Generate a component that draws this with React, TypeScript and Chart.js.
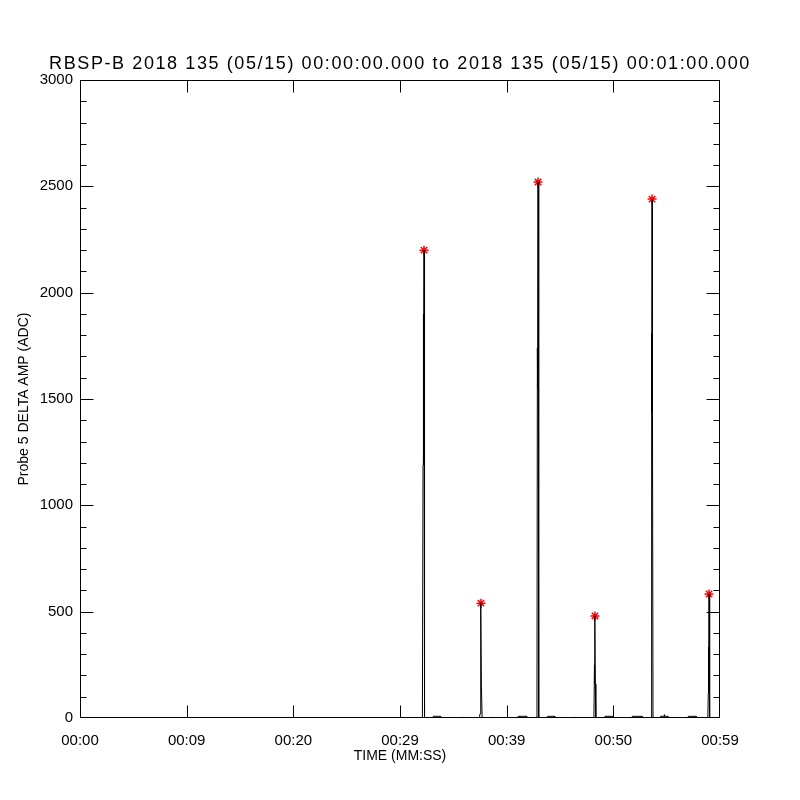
import React, { useEffect, useRef } from "react";
import { Chart, registerables } from "chart.js";

Chart.register(...registerables);

const titleText = "RBSP-B 2018 135 (05/15) 00:00:00.000 to 2018 135 (05/15) 00:01:00.000";
const xAxisTitle = "TIME (MM:SS)";
const yAxisTitle = "Probe 5 DELTA AMP (ADC)";

const xTickValues = [0, 10, 20, 30, 40, 50, 60];
const xTickLabels = ["00:00", "00:09", "00:20", "00:29", "00:39", "00:50", "00:59"];
const yTickValues = [0, 500, 1000, 1500, 2000, 2500, 3000];
const yMinorStep = 100;

// signal samples (seconds, ADC)
const times = [
  0, 32.1, 32.16, 32.19, 32.21, 32.25, 32.3,
  33.1, 33.12, 33.83, 33.85,
  35.88, 35.9, 35.93,
  37.45, 37.5, 37.55, 37.57, 37.59, 37.63, 37.7,
  38.58, 38.6, 38.63,
  41.05, 41.07, 41.9, 41.92,
  42.84, 42.88, 42.9, 42.94, 42.98, 43.03,
  43.8, 43.82, 44.5, 44.52,
  46.38, 46.4, 46.43,
  48.18, 48.23, 48.25, 48.28, 48.31, 48.36,
  49.2, 49.22, 49.9, 49.92,
  51.75, 51.77, 52.7, 52.72,
  53.54, 53.58, 53.6, 53.63, 53.67, 53.72,
  54.4, 54.42, 54.75, 54.78, 54.8, 55.1, 55.12,
  57.0, 57.02, 57.75, 57.77,
  58.86, 58.9, 58.93, 58.95, 58.97, 59.01, 59.05, 60,
];
const amps = [
  0, 0, 1190, 1900, 1190, 2200, 0,
  0, 8, 8, 0,
  0, 5, 0,
  0, 20, 290, 155, 540, 155, 0,
  0, 5, 0,
  0, 8, 8, 0,
  0, 1740, 1550, 2520, 1550, 0,
  0, 8, 8, 0,
  0, 5, 0,
  0, 250, 160, 480, 160, 0,
  0, 8, 8, 0,
  0, 8, 8, 0,
  0, 1810, 1440, 2440, 1440, 0,
  0, 8, 8, 16, 8, 8, 0,
  0, 8, 8, 0,
  0, 118, 335, 118, 583, 47, 0, 0,
];

const peakTimes = [32.25, 37.59, 42.94, 48.28, 53.63, 58.97];
const peakValues = [2200, 540, 2520, 480, 2440, 583];

const frameAndTitle = {
  id: "frameAndTitle",
  afterDraw(chart: any) {
    const { ctx, chartArea: a } = chart;
    const xs = chart.scales.x;
    const ys = chart.scales.y;
    const L = Math.round(a.left) + 0.5;
    const R = Math.round(a.right) - 0.5;
    const T = Math.round(a.top) + 0.5;
    const B = Math.round(a.bottom) - 0.5;
    const cx = (p: number) => Math.min(R, Math.max(L, Math.round(p) + 0.5));
    const cy = (p: number) => Math.min(B, Math.max(T, Math.round(p) + 0.5));
    ctx.save();
    ctx.strokeStyle = "#000";
    ctx.lineWidth = 1;
    ctx.beginPath();
    ctx.rect(L, T, R - L, B - T);
    for (const v of xTickValues) {
      const px = cx(xs.getPixelForValue(v));
      ctx.moveTo(px, B);
      ctx.lineTo(px, B - 12);
      ctx.moveTo(px, T);
      ctx.lineTo(px, T + 12);
    }
    for (const v of yTickValues) {
      const py = cy(ys.getPixelForValue(v));
      ctx.moveTo(L, py);
      ctx.lineTo(L + 13, py);
      ctx.moveTo(R, py);
      ctx.lineTo(R - 13, py);
    }
    for (let v = ys.min; v <= ys.max; v += yMinorStep) {
      if (yTickValues.includes(v)) continue;
      const py = cy(ys.getPixelForValue(v));
      ctx.moveTo(L, py);
      ctx.lineTo(L + 6, py);
      ctx.moveTo(R, py);
      ctx.lineTo(R - 6, py);
    }
    ctx.stroke();
    ctx.fillStyle = "#000";
    ctx.font = "18px 'Liberation Sans'";
    (ctx as any).letterSpacing = "1.6px";
    ctx.textAlign = "center";
    ctx.textBaseline = "middle";
    ctx.fillText(titleText, 400, 64);
    (ctx as any).letterSpacing = "0px";
    ctx.restore();
  },
};

export default function App() {
  const ref = useRef<HTMLCanvasElement>(null);
  useEffect(() => {
    const canvas = ref.current;
    if (!canvas) return;
    const signal = times.map((t, i) => ({ x: t, y: amps[i] }));
    const peaks = peakTimes.map((t, i) => ({ x: t, y: peakValues[i] }));
    const tickFont = { family: "'Liberation Sans'", size: 15 };
    const chart = new Chart(canvas, {
      type: "line",
      data: {
        datasets: [
          {
            data: signal,
            borderColor: "#000",
            borderWidth: 1,
            pointRadius: 0,
            tension: 0,
            fill: false,
          },
          {
            data: peaks,
            showLine: false,
            pointStyle: "star",
            pointRadius: 4.5,
            pointBorderColor: "#ff0000",
            pointBackgroundColor: "#ff0000",
            pointBorderWidth: 1.5,
          },
        ],
      },
      plugins: [frameAndTitle],
      options: {
        animation: false,
        responsive: false,
        devicePixelRatio: 1,
        events: [],
        layout: { padding: { top: 80, right: 80, left: 0, bottom: 0 } },
        plugins: {
          legend: { display: false },
          tooltip: { enabled: false },
          title: { display: false },
        },
        scales: {
          x: {
            type: "linear",
            min: 0,
            max: 60,
            afterBuildTicks: (s: any) => {
              s.ticks = xTickValues.map((v) => ({ value: v }));
            },
            afterFit: (s: any) => {
              s.height = 82;
            },
            grid: { display: false, drawTicks: false },
            border: { display: false },
            ticks: {
              color: "#000",
              font: tickFont,
              padding: 14,
              maxRotation: 0,
              autoSkip: false,
              callback: (_v: any, i: number) => xTickLabels[i],
            },
            title: {
              display: true,
              text: xAxisTitle,
              color: "#000",
              font: { family: "'Liberation Sans'", size: 14 },
              padding: { top: 0, bottom: 35 },
            },
          },
          y: {
            type: "linear",
            min: 0,
            max: 3000,
            afterBuildTicks: (s: any) => {
              s.ticks = yTickValues.map((v) => ({ value: v }));
            },
            afterFit: (s: any) => {
              s.width = 80;
            },
            grid: { display: false, drawTicks: false },
            border: { display: false },
            ticks: {
              color: "#000",
              font: tickFont,
              padding: 7,
              autoSkip: false,
              callback: (v: any) => String(v),
            },
            title: {
              display: true,
              text: yAxisTitle,
              color: "#000",
              font: { family: "'Liberation Sans'", size: 14 },
              padding: { top: 16, bottom: 0 },
            },
          },
        },
      },
    });
    return () => chart.destroy();
  }, []);
  return (
    <div style={{ position: "absolute", left: 0, top: 0, width: 800, height: 800, background: "#fff" }}>
      <canvas ref={ref} width={800} height={800} style={{ display: "block" }} />
    </div>
  );
}
